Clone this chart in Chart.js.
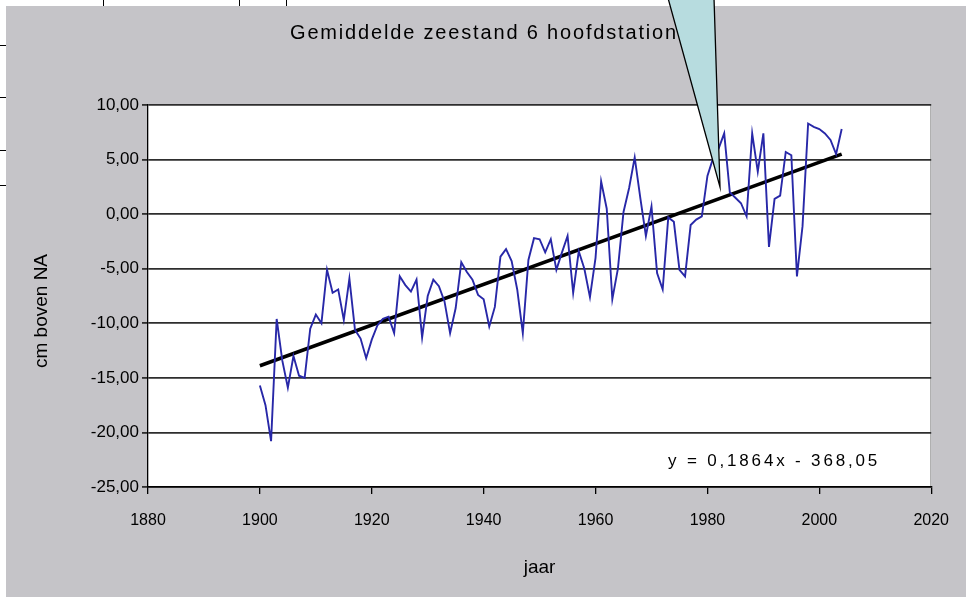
<!DOCTYPE html>
<html>
<head>
<meta charset="utf-8">
<title>Gemiddelde zeestand 6 hoofdstations</title>
<style>
  html, body { margin: 0; padding: 0; background: #ffffff; overflow: hidden; }
  #wrap { width: 966px; height: 597px; position: relative; }
</style>
<script src="https://cdn.jsdelivr.net/npm/chart.js@4.4.1/dist/chart.umd.min.js"></script>
</head>
<body>
<div id="wrap"><canvas id="chart" width="966" height="597"></canvas></div>
<script>
// Annual mean sea level (cm above NAP), average of 6 main tide stations, 1900-2004
const firstYear = 1900;
const seaLevel = [
  -15.7, -17.5, -20.8,  -9.6, -13.4, -15.9, -13.0, -14.8, -15.0, -10.5,  // 1900-1909
   -9.2, -10.0,  -5.1,  -7.2,  -6.9,  -9.7,  -5.9, -10.6, -11.4, -13.2,  // 1910-1919
  -11.5, -10.2,  -9.6,  -9.4, -10.9,  -5.7,  -6.5,  -7.1,  -6.0, -11.3,  // 1920-1929
   -7.5,  -6.0,  -6.6,  -8.0, -10.9,  -8.6,  -4.4,  -5.3,  -6.0,  -7.4,  // 1930-1939
   -7.8, -10.3,  -8.5,  -3.9,  -3.2,  -4.3,  -6.9, -10.9,  -4.2,  -2.2,  // 1940-1949
   -2.3,  -3.5,  -2.3,  -5.1,  -3.5,  -2.0,  -7.2,  -3.4,  -5.0,  -7.6,  // 1950-1959
   -4.0,   3.0,   0.5,  -7.8,  -5.0,   0.2,   2.4,   5.2,   1.5,  -2.0,  // 1960-1969
    0.7,  -5.4,  -6.9,  -0.3,  -0.7,  -5.1,  -5.7,  -1.0,  -0.5,  -0.2,  // 1970-1979
    3.5,   5.1,   6.0,   7.4,   2.0,   1.5,   1.0,  -0.2,   7.4,   3.9,  // 1980-1989
    7.4,  -3.0,   1.4,   1.7,   5.7,   5.4,  -5.7,  -1.1,   8.3,   8.0,  // 1990-1999
    7.8,   7.4,   6.8,   5.5,   7.8                                       // 2000-2004
];
const years = seaLevel.map((_, i) => firstYear + i);

// Linear trend as printed on the chart: y = 0,1864x - 368,05
const trendSlope = 0.1864;
const trendIntercept = -368.05;
const trendYears = [1900, 2004];

const xTicks = [1880, 1900, 1920, 1940, 1960, 1980, 2000, 2020];
const yTicks = [-25, -20, -15, -10, -5, 0, 5, 10];

const chartTitle = 'Gemiddelde zeestand 6 hoofdstations';
const xTitle = 'jaar';
const yTitle = 'cm boven NA';
const trendLabel = 'y = 0,1864x - 368,05';

const FONT = "'Liberation Sans', Arial, sans-serif";

const levelPoints = years.map((yr, i) => ({ x: yr, y: seaLevel[i] }));
const trendPoints = trendYears.map(yr => ({ x: yr, y: trendSlope * yr + trendIntercept }));

// draw text stretched to a given width using letter spacing
function spacedText(ctx, text, x, y, width) {
  const natural = ctx.measureText(text).width;
  if ('letterSpacing' in ctx) {
    ctx.letterSpacing = ((width - natural) / text.length).toFixed(2) + 'px';
    ctx.fillText(text, x, y);
    ctx.letterSpacing = '0px';
  } else {
    ctx.save();
    ctx.translate(x, y);
    ctx.scale(width / natural, 1);
    ctx.fillText(text, 0, 0);
    ctx.restore();
  }
}

const frame = {
  id: 'frame',
  beforeDraw(chart) {
    const { ctx, chartArea: a } = chart;
    ctx.save();
    ctx.fillStyle = '#ffffff';
    ctx.fillRect(0, 0, 966, 597);
    // page lines around the embedded chart
    ctx.strokeStyle = '#000000';
    ctx.lineWidth = 1;
    ctx.beginPath();
    [103.5, 239.5, 286.5].forEach(x => { ctx.moveTo(x, 0); ctx.lineTo(x, 7); });
    [45.5, 97.5, 150.5, 185.5].forEach(y => { ctx.moveTo(0, y); ctx.lineTo(12, y); });
    ctx.stroke();
    // chart background
    ctx.fillStyle = '#c5c4c8';
    ctx.fillRect(6, 6, 960, 591);
    ctx.fillStyle = '#ffffff';
    ctx.fillRect(a.left, a.top, a.right - a.left, a.bottom - a.top);
    ctx.strokeStyle = '#9c9c9c';
    ctx.beginPath();
    ctx.moveTo(a.right - 0.5, a.top);
    ctx.lineTo(a.right - 0.5, a.bottom);
    ctx.stroke();
    ctx.restore();
  },
  afterDraw(chart) {
    const { ctx } = chart;
    ctx.save();
    ctx.fillStyle = '#000000';
    // chart title
    ctx.font = '20px ' + FONT;
    ctx.textBaseline = 'middle';
    ctx.textAlign = 'left';
    spacedText(ctx, chartTitle, 290, 33, 400);
    // trend equation
    ctx.font = '17px ' + FONT;
    spacedText(ctx, trendLabel, 668, 461, 212);
    // y axis title
    ctx.translate(42, 311);
    ctx.rotate(-Math.PI / 2);
    ctx.textAlign = 'center';
    ctx.font = '19px ' + FONT;
    ctx.fillText(yTitle, 0, 0);
    ctx.restore();

    // callout pointer
    ctx.save();
    ctx.beginPath();
    ctx.moveTo(668, -2);
    ctx.lineTo(720, 187);
    ctx.lineTo(714, -2);
    ctx.closePath();
    ctx.fillStyle = '#b7dcdf';
    ctx.fill();
    ctx.strokeStyle = '#000000';
    ctx.lineWidth = 1.3;
    ctx.stroke();
    ctx.restore();
  }
};

new Chart(document.getElementById('chart'), {
  type: 'scatter',
  data: {
    datasets: [
      {
        label: 'zeestand',
        data: levelPoints,
        showLine: true,
        borderColor: '#2828a8',
        borderWidth: 1.9,
        pointRadius: 0,
        tension: 0
      },
      {
        label: 'trend',
        data: trendPoints,
        showLine: true,
        borderColor: '#000000',
        borderWidth: 3.6,
        pointRadius: 0
      }
    ]
  },
  options: {
    responsive: false,
    animation: false,
    devicePixelRatio: 1,
    layout: { padding: { left: 0, top: 105, right: 33, bottom: 0 } },
    plugins: {
      legend: { display: false },
      tooltip: { enabled: false },
      title: { display: false }
    },
    scales: {
      x: {
        type: 'linear',
        min: xTicks[0],
        max: xTicks[xTicks.length - 1],
        afterBuildTicks: s => { s.ticks = xTicks.map(v => ({ value: v })); },
        afterFit: s => { s.height = 110; },
        ticks: {
          color: '#000000',
          font: { family: FONT, size: 16 },
          padding: 17,
          maxRotation: 0,
          callback: v => String(v)
        },
        grid: { drawOnChartArea: false, color: '#000000', tickLength: 7, lineWidth: 1.3 },
        border: { color: '#000000', width: 1.5 },
        title: {
          display: true,
          text: xTitle,
          color: '#000000',
          font: { family: FONT, size: 19 },
          padding: { top: 0, bottom: 18 }
        }
      },
      y: {
        min: yTicks[0],
        max: yTicks[yTicks.length - 1],
        afterBuildTicks: s => { s.ticks = yTicks.map(v => ({ value: v })); },
        afterFit: s => { s.width = 148; },
        ticks: {
          color: '#000000',
          font: { family: FONT, size: 17 },
          padding: 3,
          callback: v => Number(v).toFixed(2).replace('.', ',')
        },
        grid: { color: '#2e2e2e', lineWidth: 1.8, tickLength: 6 },
        border: { color: '#000000', width: 1.3 }
      }
    }
  },
  plugins: [frame]
});
</script>
</body>
</html>
